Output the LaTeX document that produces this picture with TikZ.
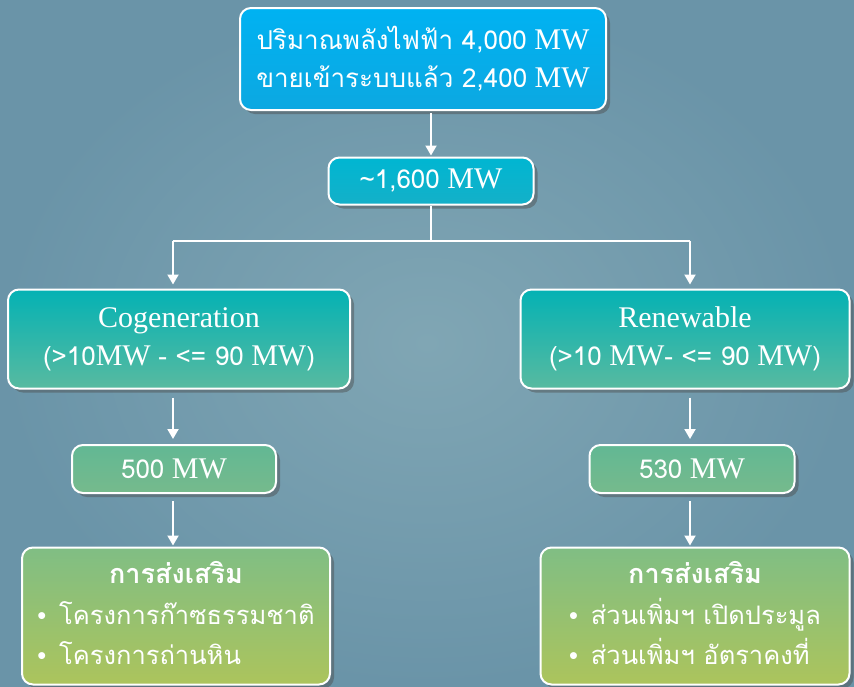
\documentclass[tikz,border=0pt]{standalone}
\usepackage{fontspec}
\setmainfont{Liberation Serif}
\newfontfamily\thai[Script=Thai]{Loma}
\newcommand\tht[1]{{\thai\fontsize{26}{38}\selectfont #1}}
\usetikzlibrary{shadows,arrows.meta}
\definecolor{bgin}{RGB}{128,166,180}
\definecolor{bgout}{RGB}{106,148,168}
\definecolor{topA}{RGB}{0,178,242}
\definecolor{topB}{RGB}{12,168,225}
\definecolor{midA}{RGB}{0,182,210}
\definecolor{midB}{RGB}{20,176,200}
\definecolor{catA}{RGB}{4,178,180}
\definecolor{catB}{RGB}{88,186,160}
\definecolor{valA}{RGB}{98,184,148}
\definecolor{valB}{RGB}{118,186,140}
\definecolor{botA}{RGB}{128,190,132}
\definecolor{botB}{RGB}{172,196,92}
\tikzset{
  box/.style={draw=white, line width=2pt, rounded corners=11pt, text=white,
    align=center, inner sep=0pt,
    drop shadow={shadow xshift=4pt, shadow yshift=-4pt, opacity=0.45, fill=black!70}},
  arr/.style={draw=white, line width=2pt, -{Triangle[width=11pt,length=10pt]}},
  wline/.style={draw=white, line width=2pt},
  big/.style={font=\fontsize{30}{38}\selectfont},
  listbox/.style={box, font=\thai\fontsize{25.5}{38}\selectfont, top color=botA, bottom color=botB,
    minimum height=137pt},
}
\begin{document}
\begin{tikzpicture}[x=1pt,y=-1pt]
\shade[inner color=bgin, outer color=bgout] (0,0) rectangle (854,686);
\useasboundingbox (0,0) rectangle (854,686);

\node[box, big, top color=topA, bottom color=topB, minimum width=366pt, minimum height=102pt] (top) at (423,59)
  {\tht{ปริมาณพลังไฟฟ้า 4,000} MW\\\tht{ขายเข้าระบบแล้ว 2,400} MW};

\node[box, big, top color=midA, bottom color=midB, minimum width=205pt, minimum height=47pt] (mid) at (431,181)
  {\tht{\textasciitilde 1,600} MW};

\node[box, big, top color=catA, bottom color=catB, minimum width=342pt, minimum height=99pt] (cog) at (179,339)
  {Cogeneration\\\tht{(>10}MW \tht{- <= 90} MW\tht{)}};

\node[box, big, top color=catA, bottom color=catB, minimum width=329pt, minimum height=99pt] (ren) at (685,339)
  {Renewable\\\tht{(>10} MW\tht{- <= 90} MW\tht{)}};

\node[box, big, top color=valA, bottom color=valB, minimum width=204pt, minimum height=48pt] (v1) at (174,469)
  {\tht{500} MW};

\node[box, big, top color=valA, bottom color=valB, minimum width=205pt, minimum height=48pt] (v2) at (692,469)
  {\tht{530} MW};

\node[listbox, minimum width=308pt] (b1) at (176,616)
  {\begin{tabular}{@{}l@{}}\multicolumn{1}{c}{\bfseries\fontsize{27}{38}\selectfont การส่งเสริม}\\[3pt]
   {\fontspec{Liberation Sans}\textbullet}\, โครงการก๊าซธรรมชาติ\\[2pt]
   {\fontspec{Liberation Sans}\textbullet}\, โครงการถ่านหิน\end{tabular}};

\node[listbox, minimum width=309pt] (b2) at (695,616)
  {\begin{tabular}{@{}l@{}}\multicolumn{1}{c}{\bfseries\fontsize{27}{38}\selectfont การส่งเสริม}\\[3pt]
   {\fontspec{Liberation Sans}\textbullet}\, ส่วนเพิ่มฯ เปิดประมูล\\[2pt]
   {\fontspec{Liberation Sans}\textbullet}\, ส่วนเพิ่มฯ อัตราคงที่\end{tabular}};

\coordinate (jm) at (431,241);
\coordinate (jl) at (173,241);
\coordinate (jr) at (690,241);

\draw[arr, shorten <=2pt, shorten >=1pt] (mid.north |- top.south) -- (mid.north);
\draw[wline] (mid.south) -- (jm);
\draw[wline] (jl) -- (jr);
\draw[arr, shorten >=4pt] (jl) -- (jl |- cog.north);
\draw[arr, shorten >=4pt] (jr) -- (jr |- ren.north);
\draw[arr, shorten <=8pt, shorten >=5pt] (jl |- cog.south) -- (jl |- v1.north);
\draw[arr, shorten <=8pt, shorten >=5pt] (jr |- ren.south) -- (jr |- v2.north);
\draw[arr, shorten <=7pt, shorten >=1pt] (jl |- v1.south) -- (jl |- b1.north);
\draw[arr, shorten <=7pt, shorten >=1pt] (jr |- v2.south) -- (jr |- b2.north);
\end{tikzpicture}
\end{document}
